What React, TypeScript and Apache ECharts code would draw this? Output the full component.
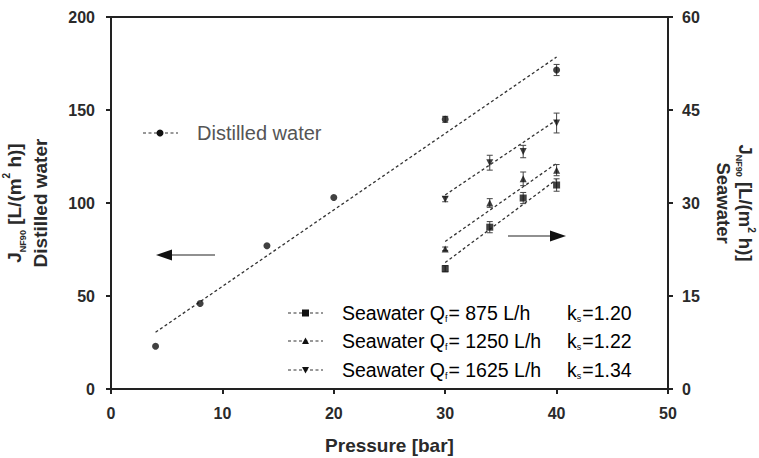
import React, { useEffect, useRef } from "react";
import * as echarts from "echarts";

// ---- data ----
const pressureDW = [4, 8, 14, 20, 30, 40];
const fluxDW = [23, 46, 77, 103, 145, 171.5];
const errDW = [0, 0, 0, 0, 1.6, 3.0];
const trendDW = [[4, 30.5], [40, 178.5]];

const pressureSW = [30, 34, 37, 40];
const flux875 = [19.4, 26.1, 30.8, 32.9];
const err875 = [0.5, 0.9, 0.9, 1.0];
const trend875 = [[30, 20.4], [40, 33.8]];
const flux1250 = [22.6, 30.0, 33.9, 35.3];
const err1250 = [0.3, 0.7, 1.1, 0.9];
const trend1250 = [[30, 23.8], [40, 36.4]];
const flux1625 = [30.6, 36.5, 38.3, 42.9];
const err1625 = [0.4, 1.2, 1.0, 1.6];
const trend1625 = [[30, 31.3], [40, 43.4]];

const xTicks = { min: 0, max: 50, interval: 10 };
const yLeftTicks = { min: 0, max: 200, interval: 50 };
const yRightTicks = { min: 0, max: 60, interval: 15 };

const legendDW = "Distilled water";
const legendSW = [
  { q: "875", k: "1.20" },
  { q: "1250", k: "1.22" },
  { q: "1625", k: "1.34" },
];

const FONT = "'Liberation Sans', Arial, Helvetica, sans-serif";
const INK = "#2a2a2a";
const GRAY = "#555";

function pts(xs: number[], ys: number[]) {
  return xs.map((x, i) => [x, ys[i]]);
}
function errPts(xs: number[], ys: number[], es: number[]) {
  return xs.map((x, i) => [x, ys[i], es[i]]);
}

const errorRender = (params: any, api: any) => {
  const x = api.value(0);
  const y = api.value(1);
  const e = api.value(2);
  if (!e) return null;
  const top = api.coord([x, y + e]);
  const bot = api.coord([x, y - e]);
  const w = 3;
  const st = { stroke: "#444", lineWidth: 1 };
  return {
    type: "group",
    children: [
      { type: "line", shape: { x1: top[0], y1: top[1], x2: bot[0], y2: bot[1] }, style: st },
      { type: "line", shape: { x1: top[0] - w, y1: top[1], x2: top[0] + w, y2: top[1] }, style: st },
      { type: "line", shape: { x1: bot[0] - w, y1: bot[1], x2: bot[0] + w, y2: bot[1] }, style: st },
    ],
  };
};

function errSeries(data: number[][], yAxisIndex: number) {
  return {
    type: "custom",
    xAxisIndex: 0,
    yAxisIndex,
    renderItem: errorRender,
    data,
    encode: { x: 0, y: 1 },
    silent: true,
    z: 3,
  };
}
function trendSeries(data: number[][], yAxisIndex: number) {
  return {
    type: "line",
    yAxisIndex,
    data,
    symbol: "none",
    lineStyle: { color: "#333", width: 1.3, type: [3, 2.5] },
    silent: true,
    z: 2,
  };
}
function scatterSeries(data: number[][], yAxisIndex: number, symbol: string, size: number, rotate = 0) {
  return {
    type: "scatter",
    yAxisIndex,
    data,
    symbol,
    symbolSize: size,
    symbolRotate: rotate,
    itemStyle: { color: "#111" },
    z: 4,
  };
}

function makeNameRich(size: number, lh: number) {
  return {
    m: { fontFamily: FONT, fontWeight: "bold", fontSize: size, color: INK, lineHeight: lh },
    sub: { fontFamily: FONT, fontWeight: "bold", fontSize: 9, color: INK, verticalAlign: "bottom", lineHeight: lh },
    sup: { fontFamily: FONT, fontWeight: "bold", fontSize: 10, color: INK, verticalAlign: "top", lineHeight: lh - 4 },
  };
}

export default function App() {
  const ref = useRef<HTMLDivElement>(null);
  useEffect(() => {
    if (!ref.current) return;
    const chart = echarts.init(ref.current, undefined, { renderer: "svg" });

    const tickLabel = { color: INK, fontFamily: FONT, fontWeight: "bold", fontSize: 16 };
    const legRich = {
      a: { fontFamily: FONT, fontSize: 19.5, color: GRAY },
      s: { fontFamily: FONT, fontSize: 9, color: GRAY, verticalAlign: "bottom", padding: [0, 1, 0, 0] },
    };

    const graphics: any[] = [];
    const dashStyle = { stroke: "#333", lineWidth: 1.2, lineDash: [3, 2.5] };
    // Distilled legend
    graphics.push({ type: "line", shape: { x1: 143, y1: 133, x2: 178, y2: 133 }, style: dashStyle });
    graphics.push({ type: "circle", shape: { cx: 160, cy: 133, r: 3.5 }, style: { fill: "#111" } });
    graphics.push({
      type: "text",
      x: 197,
      y: 133,
      style: { text: legendDW, fontFamily: FONT, fontSize: 20, fill: GRAY, verticalAlign: "middle" },
    });
    // Seawater legend
    const rowsY = [313, 341, 370];
    legendSW.forEach((row, i) => {
      const y = rowsY[i];
      graphics.push({ type: "line", shape: { x1: 288, y1: y, x2: 323, y2: y }, style: dashStyle });
      if (i === 0) {
        graphics.push({ type: "rect", shape: { x: 302, y: y - 3.5, width: 7, height: 7 }, style: { fill: "#111" } });
      } else if (i === 1) {
        graphics.push({ type: "polygon", shape: { points: [[305.5, y - 3.5], [302, y + 3], [309, y + 3]] }, style: { fill: "#111" } });
      } else {
        graphics.push({ type: "polygon", shape: { points: [[305.5, y + 3.5], [302, y - 3], [309, y - 3]] }, style: { fill: "#111" } });
      }
      graphics.push({
        type: "text",
        x: 342,
        y,
        style: {
          text: `{a|Seawater Q}{s|f}{a|= ${row.q} L/h}`,
          rich: legRich,
          verticalAlign: "middle",
        },
      });
      graphics.push({
        type: "text",
        x: 567,
        y,
        style: {
          text: `{a|k}{s|s}{a|=${row.k}}`,
          rich: legRich,
          verticalAlign: "middle",
        },
      });
    });
    // Arrows
    const arrowStyle = { stroke: "#222", lineWidth: 1.2 };
    graphics.push({ type: "line", shape: { x1: 215, y1: 255, x2: 168, y2: 255 }, style: arrowStyle });
    graphics.push({ type: "polygon", shape: { points: [[156, 255], [172, 249.5], [172, 260.5]] }, style: { fill: "#111" } });
    graphics.push({ type: "line", shape: { x1: 508, y1: 236, x2: 554, y2: 236 }, style: arrowStyle });
    graphics.push({ type: "polygon", shape: { points: [[566, 236], [550, 230.5], [550, 241.5]] }, style: { fill: "#111" } });

    chart.setOption({
      animation: false,
      backgroundColor: "#fff",
      grid: {
        left: 111,
        right: 91,
        top: 17,
        bottom: 69,
        containLabel: false,
        outerBoundsMode: "none",
        show: true,
        borderColor: "#222",
        borderWidth: 2,
        backgroundColor: "transparent",
      },
      xAxis: {
        type: "value",
        ...xTicks,
        name: "Pressure [bar]",
        nameLocation: "middle",
        nameGap: 47,
        nameTextStyle: { fontFamily: FONT, fontWeight: "bold", fontSize: 19, color: INK },
        axisLine: { show: true, lineStyle: { color: "#222", width: 2 } },
        axisTick: { show: true, length: 5, lineStyle: { color: "#222", width: 2 } },
        axisLabel: { ...tickLabel, margin: 16 },
        splitLine: { show: false },
      },
      yAxis: [
        {
          type: "value",
          ...yLeftTicks,
          position: "left",
          name: "{m|J}{sub|NF90}{m| [L/(m}{sup|2}{m| h)]}\n{m|Distilled water}",
          nameLocation: "middle",
          nameRotate: 90,
          nameGap: 58,
          nameTextStyle: { rich: makeNameRich(19, 26), align: "center" },
          axisLine: { show: true, lineStyle: { color: "#222", width: 2 } },
          axisTick: { show: true, length: 5, lineStyle: { color: "#222", width: 2 } },
          axisLabel: { ...tickLabel, margin: 16 },
          splitLine: { show: false },
        },
        {
          type: "value",
          ...yRightTicks,
          position: "right",
          name: "{m|J}{sub|NF90}{m| [L/(m}{sup|2}{m| h)]}\n{m|Seawater}",
          nameLocation: "middle",
          nameRotate: -90,
          nameGap: 44,
          nameTextStyle: { rich: makeNameRich(18.5, 22), align: "center" },
          axisLine: { show: true, lineStyle: { color: "#222", width: 2 } },
          axisTick: { show: true, length: 5, lineStyle: { color: "#222", width: 2 } },
          axisLabel: { ...tickLabel, margin: 14 },
          splitLine: { show: false },
        },
      ],
      graphic: graphics,
      series: [
        trendSeries(trendDW, 0),
        errSeries(errPts(pressureDW, fluxDW, errDW), 0),
        scatterSeries(pts(pressureDW, fluxDW), 0, "circle", 7),
        trendSeries(trend875, 1),
        errSeries(errPts(pressureSW, flux875, err875), 1),
        scatterSeries(pts(pressureSW, flux875), 1, "rect", 7),
        trendSeries(trend1250, 1),
        errSeries(errPts(pressureSW, flux1250, err1250), 1),
        scatterSeries(pts(pressureSW, flux1250), 1, "triangle", 7),
        trendSeries(trend1625, 1),
        errSeries(errPts(pressureSW, flux1625, err1625), 1),
        scatterSeries(pts(pressureSW, flux1625), 1, "triangle", 7, 180),
      ],
    });
    return () => chart.dispose();
  }, []);
  return (
    <div
      ref={ref}
      style={{ position: "fixed", left: 0, top: 0, width: 759, height: 458, background: "#fff" }}
    />
  );
}
